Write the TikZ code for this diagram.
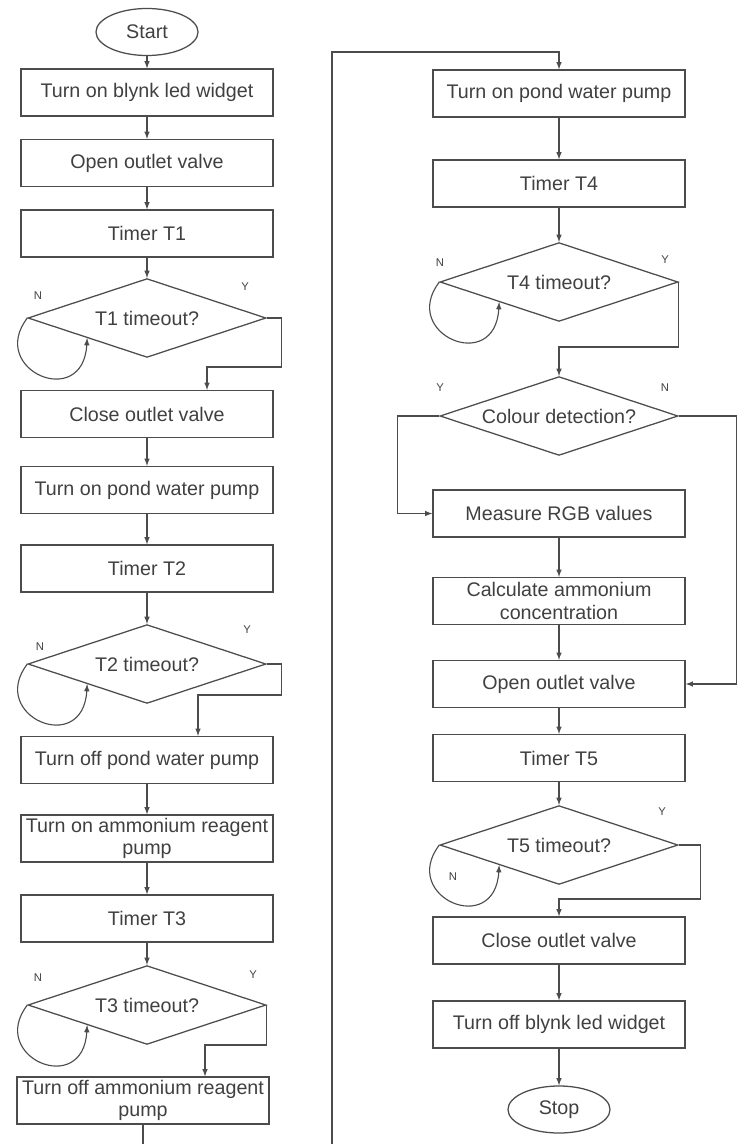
\documentclass[tikz,border=0pt]{standalone}
\usepackage{fontspec}
\setmainfont{Liberation Sans}
\usetikzlibrary{shapes.geometric, calc}

\begin{document}
\begin{tikzpicture}[x=0.025cm,y=-0.025cm,
		every node/.style={font=\fontsize{14}{16}\selectfont, text=black!75},
		box/.style={draw=black!70, line width=0.9pt, minimum width=6.3cm, minimum height=1.175cm, inner sep=1pt, align=center},
		dec/.style={draw=black!70, line width=0.9pt, diamond, shape aspect=3, minimum width=5.95cm, minimum height=1.97cm, inner sep=0pt},
		term/.style={draw=black!70, line width=0.9pt, ellipse, minimum width=2.55cm, minimum height=1.175cm, inner sep=0pt},
		yn/.style={font=\fontsize{8}{9}\selectfont},
		flow/.style={draw=black!70, line width=0.8pt, -latex}]
		\useasboundingbox (0,0) rectangle (738,1144);
		% left column
		\node[term] (start) at (147,32) {Start};
		\node[box] (b1) at (147,92.5) {Turn on blynk led widget};
		\node[box] (b2) at (147,163) {Open outlet valve};
		\node[box] (b3) at (147,233.5) {Timer T1};
		\node[dec] (dT1) at (147,318) {T1 timeout?};
		\node[box] (b4) at (147,414) {Close outlet valve};
		\node[box] (b5) at (147,490) {Turn on pond water pump};
		\node[box] (b6) at (147,568.5) {Timer T2};
		\node[dec] (dT2) at (147,664) {T2 timeout?};
		\node[box] (b7) at (147,760) {Turn off pond water pump};
		\node[box] (b8) at (147,838.5) {Turn on ammonium reagent\\pump};
		\node[box] (b9) at (147,918.5) {Timer T3};
		\node[dec] (dT3) at (147,1005) {T3 timeout?};
		\node[box] (b10) at (143,1100.5) {Turn off ammonium reagent\\pump};
		\node[yn] (nT1) at (38,296) {N};
		\node[yn] (yT1) at (245,287) {Y};
		\node[yn] (nT2) at (40,647) {N};
		\node[yn] (yT2) at (247,630) {Y};
		\node[yn] (nT3) at (38,978) {N};
		\node[yn] (yT3) at (253,975) {Y};
		% right column
		\node[box] (r1) at (559,93.5) {Turn on pond water pump};
		\node[box] (r2) at (559,183.5) {Timer T4};
		\node[dec] (dT4) at (559,282) {T4 timeout?};
		\node[dec] (dCol) at (559,416) {Colour detection?};
		\node[box] (r3) at (559,513.5) {Measure RGB values};
		\node[box] (r4) at (559,601) {Calculate ammonium\\concentration};
		\node[box] (r5) at (559,684) {Open outlet valve};
		\node[box] (r6) at (559,758) {Timer T5};
		\node[dec] (dT5) at (559,845) {T5 timeout?};
		\node[box] (r7) at (559,940.5) {Close outlet valve};
		\node[box] (r8) at (559,1024.5) {Turn off blynk led widget};
		\node[term] (stop) at (559,1109.5) {Stop};
		\node[yn] (nT4) at (440,263) {N};
		\node[yn] (yT4) at (665,260) {Y};
		\node[yn] (yCol) at (440,388) {Y};
		\node[yn] (nCol) at (665,388) {N};
		\node[yn] (yT5) at (662,812) {Y};
		\node[yn] (nT5) at (453,877) {N};
		\coordinate (cutL) at (143,1144);
		\coordinate (cutR) at (332,1144);
		% straight arrows
		\draw[flow] (start) -- (b1);
		\draw[flow] (b1) -- (b2);
		\draw[flow] (b2) -- (b3);
		\draw[flow] (b3) -- (dT1);
		\draw[flow] (b4) -- (b5);
		\draw[flow] (b5) -- (b6);
		\draw[flow] (b6) -- (dT2);
		\draw[flow] (b7) -- (b8);
		\draw[flow] (b8) -- (b9);
		\draw[flow] (b9) -- (dT3);
		\draw[flow] (r1) -- (r2);
		\draw[flow] (r2) -- (dT4);
		\draw[flow] (r3) -- (r4);
		\draw[flow] (r4) -- (r5);
		\draw[flow] (r5) -- (r6);
		\draw[flow] (r6) -- (dT5);
		\draw[flow] (r7) -- (r8);
		\draw[flow] (r8) -- (stop);
		% yes branches
		\draw[flow] (dT1.east) -- ++(15,0) -- ++(0,49) -| ($(b4.north)+(60,0)$);
		\draw[flow] (dT2.east) -- ++(15,0) -- ++(0,31) -| ($(b7.north)+(51,0)$);
		\draw[flow] (dT3.east) -- ++(0,40) -| ($(b10.north)+(62,0)$);
		\draw[flow] (dT4.east) -- ++(0,65) -| (dCol.north);
		\draw[flow] (dCol.west) -- ++(-42,0) |- (r3.west);
		\draw[flow] (dCol.east) -- ++(58,0) |- (r5.east);
		\draw[flow] (dT5.east) -- ++(22,0) -- ++(0,54) -| (r7.north);
		% no loops
		\draw[flow] (dT1.west) .. controls +(-40,52) and +(-4,73) .. ($(dT1.west)!0.5!(dT1.south)$);
		\draw[flow] (dT2.west) .. controls +(-40,52) and +(-4,73) .. ($(dT2.west)!0.5!(dT2.south)$);
		\draw[flow] (dT3.west) .. controls +(-40,52) and +(-4,73) .. ($(dT3.west)!0.5!(dT3.south)$);
		\draw[flow] (dT4.west) .. controls +(-40,52) and +(-4,73) .. ($(dT4.west)!0.5!(dT4.south)$);
		\draw[flow] (dT5.west) .. controls +(-40,52) and +(-4,73) .. ($(dT5.west)!0.5!(dT5.south)$);
		% link between columns
		\draw[draw=black!70, line width=0.8pt] (b10.south) -- (cutL);
		\draw[flow] (cutR) -- (332,52) -| (r1.north);
	\end{tikzpicture}
\end{document}
